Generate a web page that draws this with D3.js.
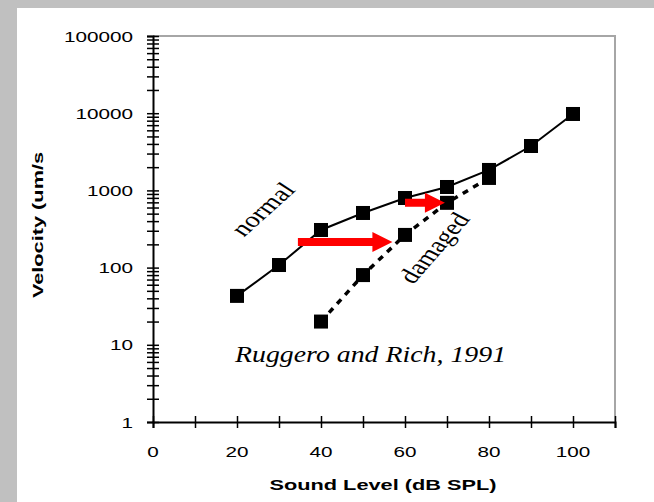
<!DOCTYPE html>
<html>
<head>
<meta charset="utf-8">
<script src="https://cdn.jsdelivr.net/npm/d3@7"></script>
<style>
  html, body { margin: 0; padding: 0; background: #c0c0c0; }
  svg { display: block; }
</style>
</head>
<body>
<div id="chart"></div>
<script>
// ── Data ───────────────────────────────────────────────────────
const soundLevels   = [20, 30, 40, 50, 60, 70, 80, 90, 100];
const normalVel     = [43, 108, 307, 510, 797, 1107, 1840, 3760, 9770];
const damagedLevels = [40, 50, 60, 70, 80];
const damagedVel    = [20, 80, 265, 690, 1450];
const xTickLabels   = [0, 20, 40, 60, 80, 100];
const xMinorTicks   = [10, 30, 50, 70, 90, 110];
const yTickLabels   = [1, 10, 100, 1000, 10000, 100000];
// red arrows: shift from normal to damaged at equal velocity
const arrowFrom = [34.5, 60];
const arrowTo   = [57, 69.5];
const arrowVel  = [215, 690];

const W = 654, H = 502;
const svg = d3.select('#chart').append('svg').attr('width', W).attr('height', H);

// white panel on grey page
svg.append('rect').attr('x', 17).attr('y', 8).attr('width', W - 17).attr('height', H - 8).attr('fill', '#fff');

const x = d3.scaleLinear().domain([0, 110]).range([153, 615]);
const y = d3.scaleLog().domain([1, 100000]).range([422, 36]);

// the source figure is widened, so text gets a horizontal scale
const sans  = 'Liberation Sans, Arial, sans-serif';
const serif = 'Liberation Serif, Times New Roman, serif';
const K = 1.38;

// frame top + right
svg.append('path')
  .attr('d', `M${x(0)},${y(100000)}H${x(110)}V${y(1)}`)
  .attr('fill', 'none').attr('stroke', '#a6a6a6').attr('stroke-width', 2);

// Y axis (log, crossing ticks)
const yAll = [];
for (let p = 0; p < 5; p++) for (let m = 1; m < 10; m++) yAll.push(m * Math.pow(10, p));
yAll.push(100000);
const yAxisG = svg.append('g').attr('transform', `translate(${x(0)},0)`)
  .call(d3.axisLeft(y).tickValues(yAll).tickSize(6).tickFormat(''));
yAxisG.select('path').attr('stroke', '#000').attr('stroke-width', 2);
yAxisG.selectAll('line').attr('x1', -6).attr('x2', 6).attr('stroke', '#000').attr('stroke-width', 1.5);

svg.append('g').selectAll('text').data(yTickLabels).enter().append('text')
  .attr('transform', d => `translate(133,${y(d) + 5.5}) scale(${K},1)`)
  .attr('text-anchor', 'end')
  .attr('font-family', sans).attr('font-size', 15).attr('fill', '#000')
  .text(d => d);

// X axis
const xAxisG = svg.append('g').attr('transform', `translate(0,${y(1)})`)
  .call(d3.axisBottom(x).tickValues(xTickLabels.concat(xMinorTicks)).tickSize(6).tickFormat(''));
xAxisG.select('path').attr('stroke', '#000').attr('stroke-width', 2);
xAxisG.selectAll('line').attr('y1', -6).attr('y2', 6).attr('stroke', '#000').attr('stroke-width', 1.5);

svg.append('g').selectAll('text').data(xTickLabels).enter().append('text')
  .attr('transform', d => `translate(${x(d)},457) scale(${K},1)`)
  .attr('text-anchor', 'middle')
  .attr('font-family', sans).attr('font-size', 15).attr('fill', '#000')
  .text(d => d);

// axis titles
svg.append('text')
  .attr('transform', `translate(383,490) scale(1.45,1)`).attr('text-anchor', 'middle')
  .attr('font-family', sans).attr('font-weight', 'bold').attr('font-size', 15)
  .text('Sound Level (dB SPL)');

svg.append('text')
  .attr('transform', 'translate(43,225) scale(1,1.45) rotate(-90)').attr('text-anchor', 'middle')
  .attr('font-family', sans).attr('font-weight', 'bold').attr('font-size', 15)
  .text('Velocity (um/s');

// Lines
const normal  = soundLevels.map((s, i) => [s, normalVel[i]]);
const damaged = damagedLevels.map((s, i) => [s, damagedVel[i]]);
const line = d3.line().x(d => x(d[0])).y(d => y(d[1]));

svg.append('path').datum(normal).attr('d', line)
  .attr('fill', 'none').attr('stroke', '#000').attr('stroke-width', 2);
svg.append('path').datum(damaged).attr('d', line)
  .attr('fill', 'none').attr('stroke', '#000').attr('stroke-width', 3.5)
  .attr('stroke-dasharray', '6,6');

const sq = 14;
svg.append('g').selectAll('rect').data(normal.concat(damaged)).enter().append('rect')
  .attr('x', d => x(d[0]) - sq / 2).attr('y', d => y(d[1]) - sq / 2)
  .attr('width', sq).attr('height', sq).attr('fill', '#000');

// Red arrows
arrowFrom.forEach((f, i) => {
  const x0 = x(f), x1 = x(arrowTo[i]), yy = y(arrowVel[i]);
  const hl = 20, hw = 10, bw = 4;
  svg.append('path')
    .attr('d', `M${x0},${yy - bw}H${x1 - hl}V${yy - hw}L${x1},${yy}L${x1 - hl},${yy + hw}V${yy + bw}H${x0}Z`)
    .attr('fill', '#ff0000');
});

// Annotations
svg.append('text')
  .attr('transform', 'translate(270,214) scale(1.3,1) rotate(-49.5)').attr('text-anchor', 'middle')
  .attr('font-family', serif).attr('font-size', 22).text('normal');
svg.append('text')
  .attr('transform', 'translate(442,252) scale(1.3,1) rotate(-56)').attr('text-anchor', 'middle')
  .attr('font-family', serif).attr('font-size', 22).text('damaged');
svg.append('text')
  .attr('transform', 'translate(235,362) scale(1.16,1)')
  .attr('font-family', serif).attr('font-style', 'italic').attr('font-size', 24)
  .text('Ruggero and Rich, 1991');
</script>
</body>
</html>
